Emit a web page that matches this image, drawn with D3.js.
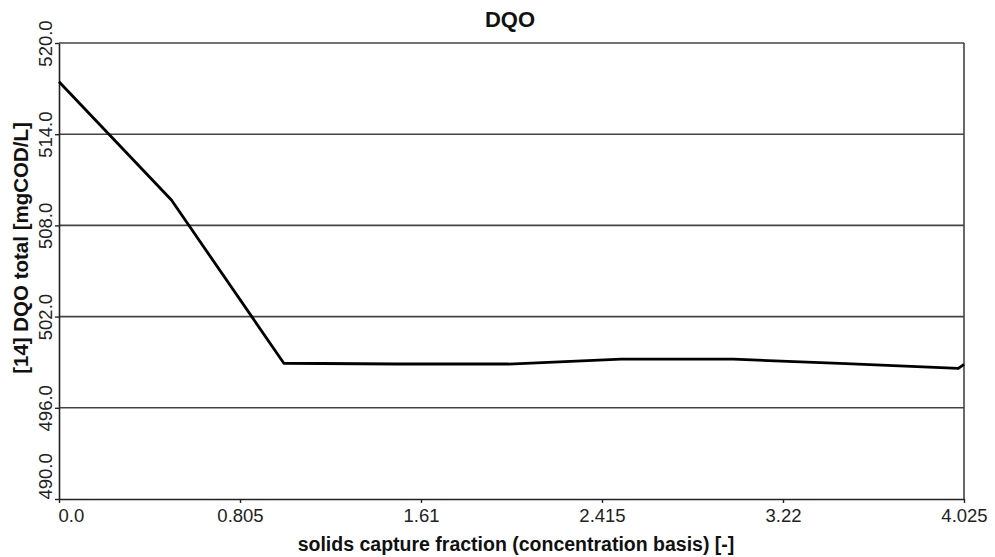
<!DOCTYPE html>
<html>
<head>
<meta charset="utf-8">
<script src="https://cdn.jsdelivr.net/npm/d3@7"></script>
<style>
  html, body { margin: 0; padding: 0; background: #fff; }
  svg { display: block; font-family: "Liberation Sans", Arial, sans-serif; }
</style>
</head>
<body>
<svg id="chart" width="995" height="557"></svg>
<script>
// Solids capture fraction vs. total COD
const captureFraction = [0, 0.5, 1.0, 1.5, 2.0, 2.5, 3.0, 3.5, 4.0, 4.025];
const dqoTotal = [517.45, 509.67, 498.93, 498.88, 498.88, 499.2, 499.2, 498.9, 498.6, 498.86];
const xTickValues = [0, 0.805, 1.61, 2.415, 3.22, 4.025];
const xTickLabels = ["0.0", "0.805", "1.61", "2.415", "3.22", "4.025"];
const yTickValues = [490, 496, 502, 508, 514, 520];
const yTickLabels = ["490.0", "496.0", "502.0", "508.0", "514.0", "520.0"];

const svg = d3.select("#chart");
const margin = { left: 59, right: 31, top: 43, bottom: 58 };
const W = 995, H = 557;

const x = d3.scaleLinear().domain([0, 4.025]).range([margin.left, W - margin.right]);
const y = d3.scaleLinear().domain([490, 520]).range([H - margin.bottom, margin.top]);

// Title
svg.append("text")
  .attr("x", 510).attr("y", 27)
  .attr("text-anchor", "middle")
  .attr("font-size", 22).attr("font-weight", "bold").attr("fill", "#111")
  .text("DQO");

// Horizontal gridlines
svg.append("g")
  .selectAll("line")
  .data(yTickValues.filter(v => v > 490))
  .join("line")
  .attr("x1", x(0)).attr("x2", x(4.025))
  .attr("y1", d => y(d)).attr("y2", d => y(d))
  .attr("stroke", "#444").attr("stroke-width", 1.6);

// Right border
svg.append("line")
  .attr("x1", x(4.025)).attr("x2", x(4.025))
  .attr("y1", y(520)).attr("y2", y(490))
  .attr("stroke", "#444").attr("stroke-width", 1.6);

// X axis
const xAxis = d3.axisBottom(x)
  .tickValues(xTickValues)
  .tickFormat((d, i) => xTickLabels[i])
  .tickSizeInner(4).tickSizeOuter(0).tickPadding(6);
const gx = svg.append("g")
  .attr("transform", `translate(0,${y(490)})`)
  .call(xAxis);
gx.select(".domain").attr("stroke", "#222").attr("stroke-width", 1.6);
gx.selectAll(".tick line").attr("stroke", "#222").attr("stroke-width", 1.4);
gx.selectAll(".tick text")
  .attr("font-size", 18.5).attr("fill", "#222")
  .attr("font-family", "'Liberation Sans', Arial, sans-serif")
  .attr("text-anchor", (d, i) => i === 0 ? "start" : "middle")
  .attr("dx", (d, i) => i === 0 ? -1 : 0);

// Y axis with rotated labels (lowest label kept above the x axis)
const yAxis = d3.axisLeft(y)
  .tickValues(yTickValues)
  .tickFormat((d, i) => yTickLabels[i])
  .tickSizeInner(4).tickSizeOuter(0);
const gy = svg.append("g")
  .attr("transform", `translate(${x(0)},0)`)
  .call(yAxis);
gy.select(".domain").attr("stroke", "#222").attr("stroke-width", 1.6);
gy.selectAll(".tick line").attr("stroke", "#222").attr("stroke-width", 1.4);
gy.selectAll(".tick text")
  .attr("font-size", 18.5).attr("fill", "#222")
  .attr("font-family", "'Liberation Sans', Arial, sans-serif")
  .attr("x", null).attr("dy", null).attr("y", 0)
  .attr("transform", "translate(-7,0) rotate(-90)")
  .attr("text-anchor", (d, i) => i === 0 ? "start" : "middle");

// Axis titles
svg.append("text")
  .attr("x", 516).attr("y", 551)
  .attr("text-anchor", "middle")
  .attr("font-size", 19.5).attr("font-weight", "bold").attr("fill", "#111")
  .text("solids capture fraction (concentration basis) [-]");

svg.append("text")
  .attr("transform", "translate(28,248) rotate(-90)")
  .attr("text-anchor", "middle")
  .attr("font-size", 20.5).attr("font-weight", "bold").attr("fill", "#111")
  .text("[14] DQO total [mgCOD/L]");

// Data line
const line = d3.line()
  .x((d, i) => x(captureFraction[i]))
  .y(d => y(d));
svg.append("path")
  .datum(dqoTotal)
  .attr("d", line)
  .attr("fill", "none")
  .attr("stroke", "#000")
  .attr("stroke-width", 2.8)
  .attr("stroke-linejoin", "round");
</script>
</body>
</html>
